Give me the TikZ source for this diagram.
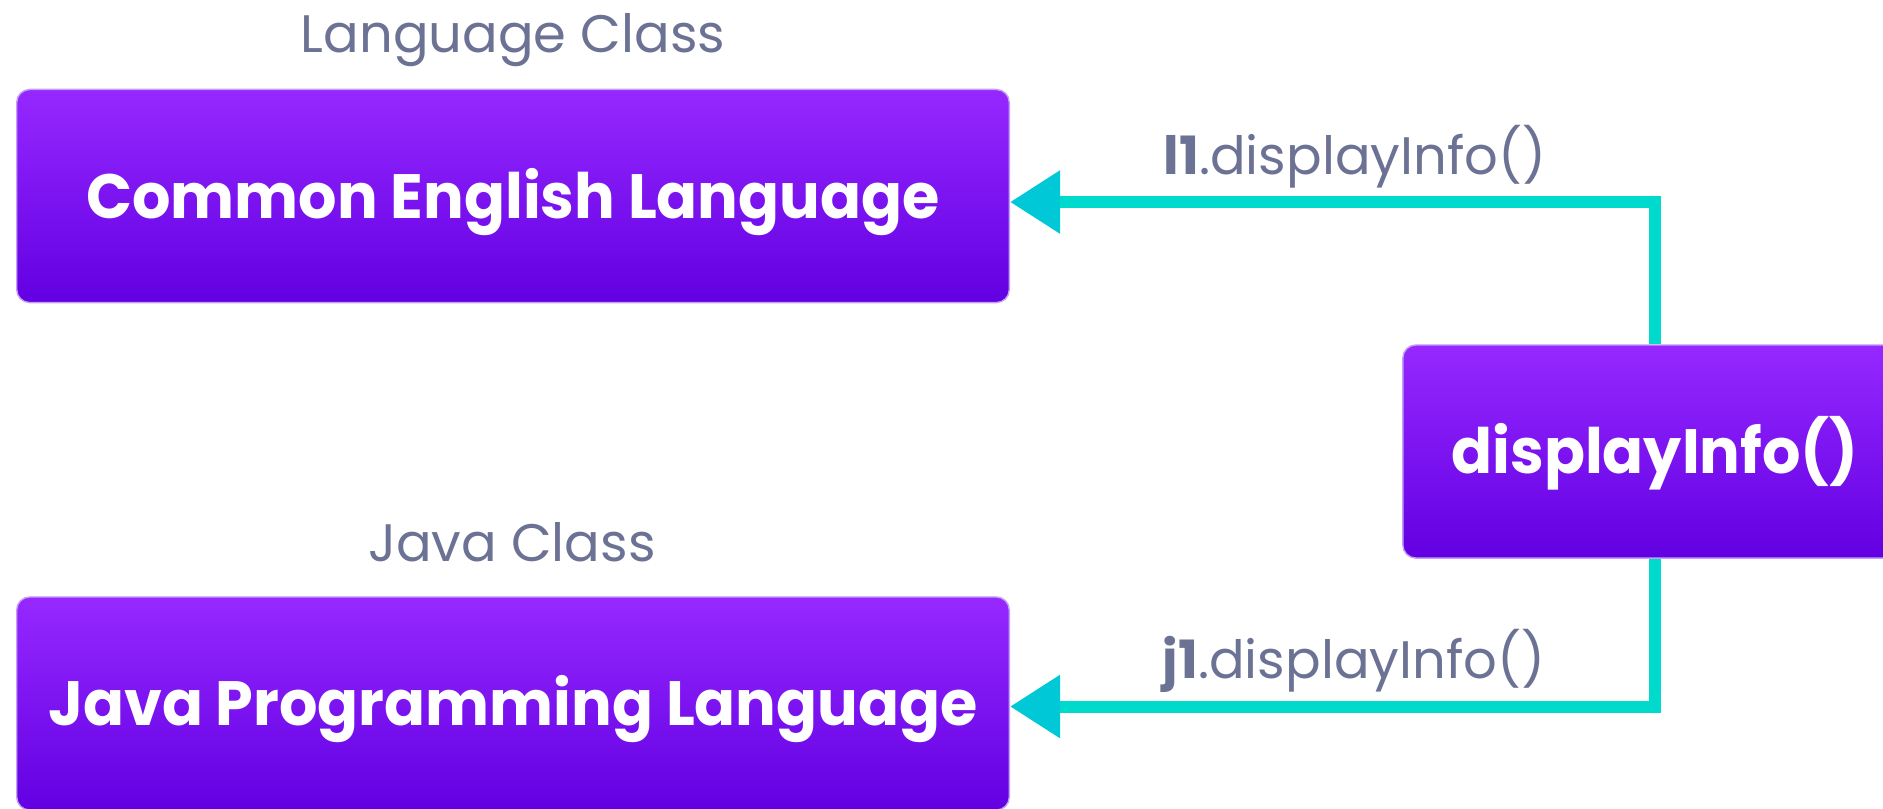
\documentclass[tikz,border=0pt]{standalone}
\usepackage{fontspec}
\setmainfont{Poppins}
\newfontfamily\boxfont{Poppins}[FakeStretch=0.965]
\usetikzlibrary{arrows.meta}
\definecolor{ptop}{RGB}{150,40,255}
\definecolor{pbot}{RGB}{98,0,226}
\definecolor{pedge}{RGB}{196,160,245}
\definecolor{conncol}{RGB}{0,218,205}
\definecolor{headcol}{RGB}{0,200,214}
\definecolor{labgray}{RGB}{108,114,148}
\begin{document}
\begin{tikzpicture}[x=0.01cm,y=-0.01cm,
  classbox/.style={rounded corners=0.13cm, top color=ptop, bottom color=pbot,
    draw=pedge, line width=0.4pt, minimum height=2.13cm, inner sep=0pt,
    text=white, text height=0.44cm, text depth=0pt,
    font=\boxfont\fontsize{17.8}{21}\selectfont\bfseries},
  caption/.style={text=labgray, anchor=base, inner sep=0pt,
    font=\fontsize{15}{18}\selectfont},
  calllabel/.style={text=labgray, anchor=base, inner sep=0pt,
    font=\fontsize{15}{18}\selectfont},
  conn/.style={draw=conncol, line width=0.12cm,
    -{Triangle[length=0.5cm,width=0.6cm,color=headcol]}}]
\useasboundingbox (0,0) rectangle (1883,808);
\node[classbox, minimum width=9.92cm] (lang) at (513,196) {Common English Language};
\node[classbox, minimum width=9.92cm] (java) at (513,703.5) {Java Programming Language};
\node[classbox, minimum width=5.04cm] (disp) at (1655,451.5) {displayInfo()};
\node[caption] (langcap) at (513,52) {Language Class};
\node[caption] (javacap) at (512,561) {Java Class};
\node[calllabel] (l1lab) at (1355,174) {\textbf{l1}.displayInfo()};
\node[calllabel] (j1lab) at (1354,678) {\textbf{j1}.displayInfo()};
\draw[conn] (disp.north) |- ([yshift=-0.06cm]lang.east);
\draw[conn] (disp.south) |- ([yshift=-0.03cm]java.east);
\end{tikzpicture}
\end{document}
